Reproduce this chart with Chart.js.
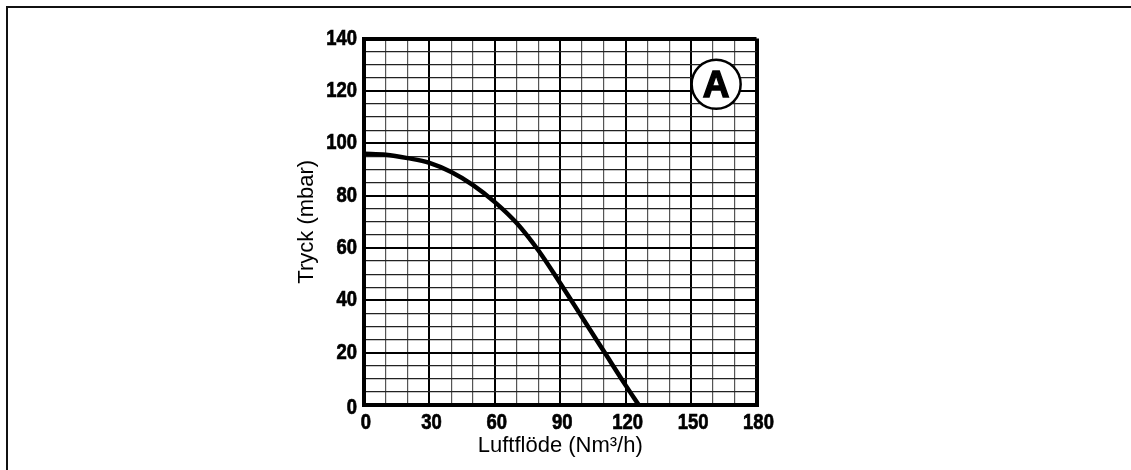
<!DOCTYPE html>
<html>
<head>
<meta charset="utf-8">
<script src="https://cdn.jsdelivr.net/npm/chart.js@4/dist/chart.umd.min.js"></script>
<style>
  html, body { margin: 0; padding: 0; background: #fff; }
  canvas { display: block; }
</style>
</head>
<body>
<canvas id="c" width="1131" height="470"></canvas>
<script>
// ---- Data ----
const flow = [0, 10, 20, 30, 40, 50, 60, 70, 80, 90, 100, 110, 120, 126];
const pressure = [96, 95.6, 94.3, 92.5, 89, 84, 77.5, 69.5, 59, 46.5, 33.5, 20.5, 7.5, 0];
const xTickLabels = [0, 30, 60, 90, 120, 150, 180];
const yTickLabels = [0, 20, 40, 60, 80, 100, 120, 140];
const xTitle = 'Luftflöde (Nm³/h)';
const yTitle = 'Tryck (mbar)';
const badgeText = 'A';
const badgePos = { x: 161.5, y: 122.5 };

const tickFontCss = "bold 22px 'Liberation Sans', Arial, sans-serif";
const titleFont = { family: "'Liberation Sans', Arial, sans-serif", size: 22, weight: 'normal' };

function gridStyle(majorList, maxV, minorColor) {
  return {
    drawTicks: false,
    color: (ctx) => {
      const v = ctx.tick ? ctx.tick.value : null;
      return majorList.includes(v) ? '#000' : minorColor;
    },
    lineWidth: (ctx) => {
      const v = ctx.tick ? ctx.tick.value : null;
      if (v === 0 || v === maxV) return 4;
      return majorList.includes(v) ? 2 : 1.2;
    }
  };
}

const framePlugin = {
  id: 'frame',
  beforeDraw(chart) {
    const c = chart.ctx;
    c.save();
    c.fillStyle = '#fff';
    c.fillRect(0, 0, chart.width, chart.height);
    c.strokeStyle = '#111';
    c.lineWidth = 2;
    c.beginPath();
    c.moveTo(7, chart.height);
    c.lineTo(7, 7);
    c.lineTo(chart.width, 7);
    c.stroke();
    c.restore();
  }
};

// Condensed heavy tick labels (narrow font not installed): drawn at the scales' own tick positions
const tickLabelPlugin = {
  id: 'condensedTicks',
  afterDraw(chart) {
    const c = chart.ctx;
    const xs = chart.scales.x, ys = chart.scales.y;
    c.save();
    c.fillStyle = '#000';
    c.strokeStyle = '#000';
    c.lineWidth = 0.7;
    c.font = tickFontCss;
    c.textBaseline = 'middle';
    ys.ticks.forEach(t => {
      if (!yTickLabels.includes(t.value)) return;
      const py = ys.getPixelForValue(t.value) + (t.value === 0 ? 3 : 0);
      c.save();
      c.translate(ys.right - 7, py);
      c.scale(0.84, 1);
      c.textAlign = 'right';
      c.fillText(String(t.value), 0, 0);
      c.strokeText(String(t.value), 0, 0);
      c.restore();
    });
    xs.ticks.forEach(t => {
      if (!xTickLabels.includes(t.value)) return;
      const px = xs.getPixelForValue(t.value) + 2;
      c.save();
      c.translate(px, xs.top + 18);
      c.scale(0.84, 1);
      c.textAlign = 'center';
      c.fillText(String(t.value), 0, 0);
      c.strokeText(String(t.value), 0, 0);
      c.restore();
    });
    c.restore();
  }
};

const badgePlugin = {
  id: 'badge',
  afterDatasetsDraw(chart) {
    const c = chart.ctx;
    const px = chart.scales.x.getPixelForValue(badgePos.x);
    const py = chart.scales.y.getPixelForValue(badgePos.y);
    c.save();
    c.beginPath();
    c.arc(px, py, 24.5, 0, Math.PI * 2);
    c.fillStyle = '#fff';
    c.fill();
    c.lineWidth = 2.5;
    c.strokeStyle = '#000';
    c.stroke();
    c.fillStyle = '#000';
    c.font = "bold 37px 'Liberation Sans', Arial, sans-serif";
    c.textAlign = 'center';
    c.textBaseline = 'middle';
    c.lineWidth = 1.4;
    c.fillText(badgeText, px, py + 2);
    c.strokeText(badgeText, px, py + 2);
    c.restore();
  }
};

new Chart(document.getElementById('c'), {
  type: 'line',
  data: {
    datasets: [{
      data: flow.map((x, i) => ({ x: x, y: pressure[i] })),
      borderColor: '#000',
      borderWidth: 4.5,
      pointRadius: 0,
      fill: false,
      cubicInterpolationMode: 'monotone',
      borderCapStyle: 'butt'
    }]
  },
  options: {
    responsive: false,
    animation: false,
    devicePixelRatio: 1,
    layout: { padding: { left: 290, right: 1131 - 756.5, top: 38.5, bottom: 7 } },
    plugins: { legend: { display: false }, tooltip: { enabled: false } },
    scales: {
      x: {
        type: 'linear',
        min: 0,
        max: 180,
        afterFit(s) { s.height = 58; },
        ticks: {
          display: false,
          stepSize: 10,
          autoSkip: false,
          maxRotation: 0,
          callback: (v) => xTickLabels.includes(v) ? String(v) : ''
        },
        grid: gridStyle(xTickLabels, 180, '#555'),
        border: { display: true, color: '#000', width: 4 },
        title: { display: true, text: xTitle, color: '#000', font: titleFont, padding: { top: 4, bottom: 4 } }
      },
      y: {
        type: 'linear',
        min: 0,
        max: 140,
        afterFit(s) { s.width = 364 - 290; },
        ticks: {
          display: false,
          stepSize: 5,
          autoSkip: false,
          callback: (v) => yTickLabels.includes(v) ? String(v) : ''
        },
        grid: gridStyle(yTickLabels, 140, '#222'),
        border: { display: true, color: '#000', width: 4 },
        title: { display: true, text: yTitle, color: '#000', font: titleFont, padding: { top: 4, bottom: 4 } }
      }
    }
  },
  plugins: [framePlugin, badgePlugin, tickLabelPlugin]
});
</script>
</body>
</html>
